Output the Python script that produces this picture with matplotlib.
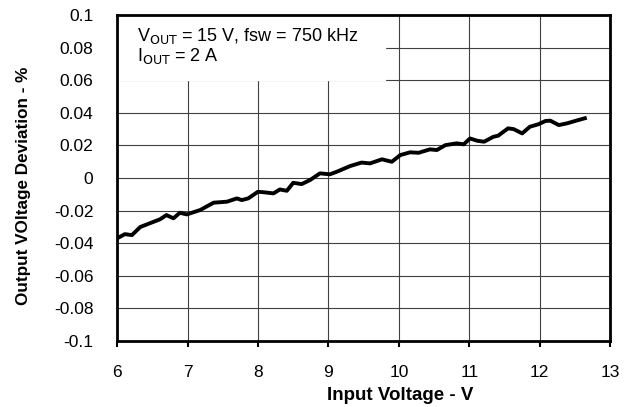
import matplotlib.pyplot as plt

plt.rcParams["font.family"] = ["Liberation Sans", "DejaVu Sans"]

# input voltage (V) and output voltage deviation (%)
vin = [6.0, 6.11, 6.21, 6.33, 6.52, 6.61, 6.7, 6.8, 6.89, 6.99, 7.18, 7.37, 7.56,
       7.7, 7.77, 7.86, 8.0, 8.1, 8.22, 8.31, 8.41, 8.5, 8.62, 8.74, 8.88, 9.02,
       9.12, 9.31, 9.47, 9.59, 9.76, 9.9, 10.02, 10.16, 10.28, 10.44, 10.54,
       10.66, 10.82, 10.92, 11.01, 11.11, 11.21, 11.34, 11.41, 11.55, 11.63,
       11.75, 11.86, 11.98, 12.08, 12.15, 12.27, 12.39, 12.5, 12.64]
dev = [-0.037, -0.0344, -0.035, -0.030, -0.0268, -0.0253, -0.0227, -0.0247,
       -0.0213, -0.0223, -0.0196, -0.0151, -0.0145, -0.0125, -0.0135, -0.0125,
       -0.0084, -0.0088, -0.0094, -0.007, -0.0078, -0.0029, -0.0037, -0.0012,
       0.0029, 0.0023, 0.0039, 0.0074, 0.0095, 0.009, 0.0115, 0.010, 0.0141,
       0.0158, 0.0155, 0.0176, 0.0172, 0.0202, 0.0213, 0.0207, 0.0243, 0.0229,
       0.0223, 0.0253, 0.026, 0.0305, 0.030, 0.0274, 0.0315, 0.033, 0.035,
       0.0352, 0.0325, 0.0336, 0.035, 0.0367]

xticks = [6, 7, 8, 9, 10, 11, 12, 13]
yticks = [-0.1, -0.08, -0.06, -0.04, -0.02, 0, 0.02, 0.04, 0.06, 0.08, 0.1]
ytick_labels = ["-0.1", "-0.08", "-0.06", "-0.04", "-0.02", "0", "0.02", "0.04",
                "0.06", "0.08", "0.1"]

fig = plt.figure(figsize=(6.33, 4.07), dpi=100)
ax = fig.add_axes([0.185, 0.162, 0.779, 0.801])

ax.plot(vin, dev, color="black", lw=2.8, zorder=3)

ax.set_xlim(6, 13)
ax.set_ylim(-0.1, 0.1)
ax.set_xticks(xticks)
ax.set_yticks(yticks)
ax.set_yticklabels(ytick_labels)
ax.grid(True, color="#404040", lw=0.8, zorder=0)
ax.set_axisbelow(True)

ax.tick_params(axis="x", direction="out", length=4, width=1.5, pad=13, labelsize=12.5)
ax.tick_params(axis="y", length=0, pad=17, labelsize=12.5)
for s in ax.spines.values():
    s.set_linewidth(2)

# white box hiding the grid behind the conditions text
ax.fill_between([6, 9.8], 0.06, 0.1, color="white", zorder=1)
ax.text(6.28, 0.0871, r"V$_{\rm OUT}$ = 15 V, fsw = 750 kHz", fontsize=13,
        va="center", zorder=4)
ax.text(6.28, 0.0748, r"I$_{\rm OUT}$ = 2 A", fontsize=13, va="center", zorder=4)

ax.set_xlabel("Input Voltage - V", fontsize=13.5, fontweight="bold")
ax.xaxis.set_label_coords(0.574, -0.14)
ax.set_ylabel("Output VOltage Deviation - %", fontsize=12.3, fontweight="bold")
ax.yaxis.set_label_coords(-0.175, 0.475)

fig.savefig("out.png", dpi=100)
